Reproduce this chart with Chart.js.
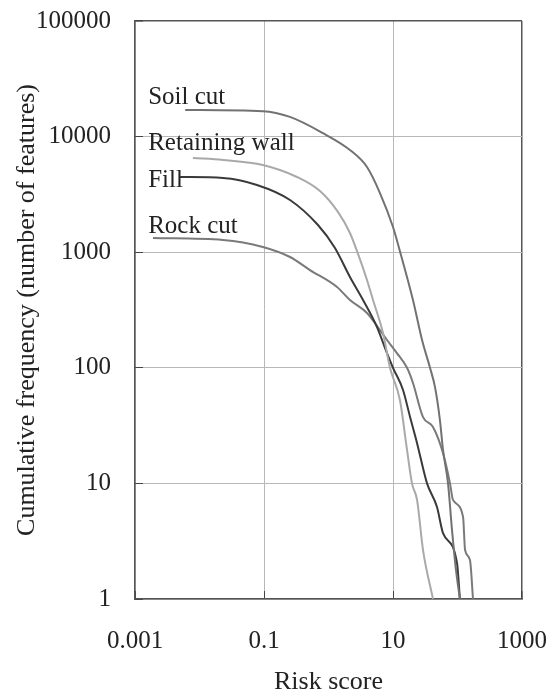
<!DOCTYPE html>
<html>
<head>
<meta charset="utf-8">
<script src="https://cdn.jsdelivr.net/npm/chart.js@4"></script>
<style>
  body { margin: 0; background: #fff; }
</style>
</head>
<body>
<canvas id="chart" width="551" height="695"></canvas>
<script>
// Values (log-log axes)
const xTicks = [0.001, 0.1, 10, 1000];
const yTicks = [1, 10, 100, 1000, 10000, 100000];

const soilCutX = [0.006, 0.096, 0.253, 0.822, 2.15, 3.95, 6.28, 10, 12.8, 20.4, 28.2, 37.5, 44.8, 53.5, 59.6, 71.3, 82.2, 94.8, 109];
const soilCutY = [17000, 16600, 14800, 10700, 7660, 5460, 3250, 1650, 1020, 386, 174, 100, 68, 35, 19.5, 10, 3.95, 1.78, 1];

const retainingX = [0.0079, 0.0231, 0.096, 0.325, 0.738, 1.4, 2.15, 2.77, 3.95, 4.9, 7.0, 8.98, 12.8, 16.5, 19.7, 23.6, 29.2, 41.7];
const retainingY = [6530, 6280, 5680, 4470, 3380, 2230, 1466, 1020, 575, 386, 200, 100, 52.6, 19.5, 10, 7.2, 2.65, 1];

const fillX = [0.005, 0.0231, 0.0778, 0.253, 0.687, 1.26, 2.15, 3.43, 5.65, 8.07, 10, 14.3, 18.4, 23.6, 33.7, 48.1, 59.6, 98.2, 109];
const fillY = [4470, 4385, 3815, 2830, 1718, 1087, 610, 386, 225, 134, 100, 64.3, 37.5, 22.3, 10, 6.25, 3.72, 2.05, 1];

const rockCutX = [0.0019, 0.0231, 0.096, 0.253, 0.516, 1.355, 2.15, 3.95, 6.28, 8.07, 11.5, 16.5, 20.4, 29.2, 41.7, 59.6, 76.5, 85.1, 122, 131, 156, 174];
const rockCutY = [1327, 1276, 1110, 909, 701, 500, 386, 298, 212, 174, 134, 100, 73.9, 37.5, 30.8, 18.3, 10, 7.2, 5.12, 2.65, 2.17, 1];

// Curve labels, anchored at (risk score, frequency) of their baseline start
const labelNames = ["Soil cut", "Retaining wall", "Fill", "Rock cut"];
const labelX = [0.0016, 0.0016, 0.0016, 0.0016];
const labelY = [19000, 7730, 3690, 1466];

const FONT = '"Liberation Serif", "Times New Roman", serif';

function toPoints(xs, ys) {
  return xs.map((x, i) => ({ x: x, y: ys[i] }));
}

function series(label, xs, ys, color) {
  return {
    label: label,
    data: toPoints(xs, ys),
    borderColor: color,
    borderWidth: 2,
    pointRadius: 0,
    fill: false,
    cubicInterpolationMode: "monotone",
  };
}

const curveLabels = {
  id: "curveLabels",
  afterDatasetsDraw(chart) {
    const { ctx, scales } = chart;
    ctx.save();
    ctx.font = "25px " + FONT;
    ctx.fillStyle = "#222";
    ctx.textAlign = "left";
    ctx.textBaseline = "alphabetic";
    labelNames.forEach((name, i) => {
      ctx.fillText(name, scales.x.getPixelForValue(labelX[i]), scales.y.getPixelForValue(labelY[i]));
    });
    ctx.restore();
  },
};

const edgeColor = "#555";
const gridColor = "#b8b8b8";

new Chart(document.getElementById("chart"), {
  type: "line",
  data: {
    datasets: [
      series("Soil cut", soilCutX, soilCutY, "#727272"),
      series("Retaining wall", retainingX, retainingY, "#a9a9a9"),
      series("Fill", fillX, fillY, "#3a3a3a"),
      series("Rock cut", rockCutX, rockCutY, "#7a7a7a"),
    ],
  },
  options: {
    responsive: false,
    animation: false,
    devicePixelRatio: 1,
    layout: { padding: { top: 21, right: 29, left: 0, bottom: 0 } },
    plugins: {
      legend: { display: false },
      tooltip: { enabled: false },
    },
    scales: {
      x: {
        type: "logarithmic",
        min: 0.001,
        max: 1000,
        afterBuildTicks: (s) => { s.ticks = xTicks.map((v) => ({ value: v })); },
        afterFit: (s) => {
          s.height = 96;
          s.paddingLeft = 0;
          s.paddingRight = 0;
        },
        grid: {
          color: (c) => (c.tick && c.tick.value === 1000 ? edgeColor : gridColor),
          lineWidth: (c) => (c.tick && c.tick.value === 1000 ? 1.5 : 1),
          tickColor: "#444",
          tickLength: -8,
        },
        border: { color: edgeColor, width: 1.5 },
        ticks: {
          padding: 35,
          maxRotation: 0,
          autoSkip: false,
          color: "#222",
          font: { family: FONT, size: 25 },
          callback: (v) => String(v),
        },
        title: {
          display: true,
          text: "Risk score",
          color: "#222",
          font: { family: FONT, size: 26, lineHeight: 1 },
          padding: { top: 0, bottom: 0 },
        },
      },
      y: {
        type: "logarithmic",
        min: 1,
        max: 100000,
        afterBuildTicks: (s) => { s.ticks = yTicks.map((v) => ({ value: v })); },
        afterFit: (s) => {
          s.width = 135;
          s.paddingTop = 0;
          s.paddingBottom = 0;
        },
        grid: {
          color: (c) => (c.tick && c.tick.value === 100000 ? edgeColor : gridColor),
          lineWidth: (c) => (c.tick && c.tick.value === 100000 ? 1.5 : 1),
          tickColor: "#444",
          tickLength: -8,
        },
        border: { color: edgeColor, width: 1.5 },
        ticks: {
          padding: 32,
          autoSkip: false,
          color: "#222",
          font: { family: FONT, size: 25 },
          callback: (v) => String(v),
        },
        title: {
          display: true,
          text: "Cumulative frequency (number of features)",
          color: "#222",
          font: { family: FONT, size: 26, lineHeight: 1 },
          padding: { top: 14, bottom: 0 },
        },
      },
    },
  },
  plugins: [curveLabels],
});
</script>
</body>
</html>
